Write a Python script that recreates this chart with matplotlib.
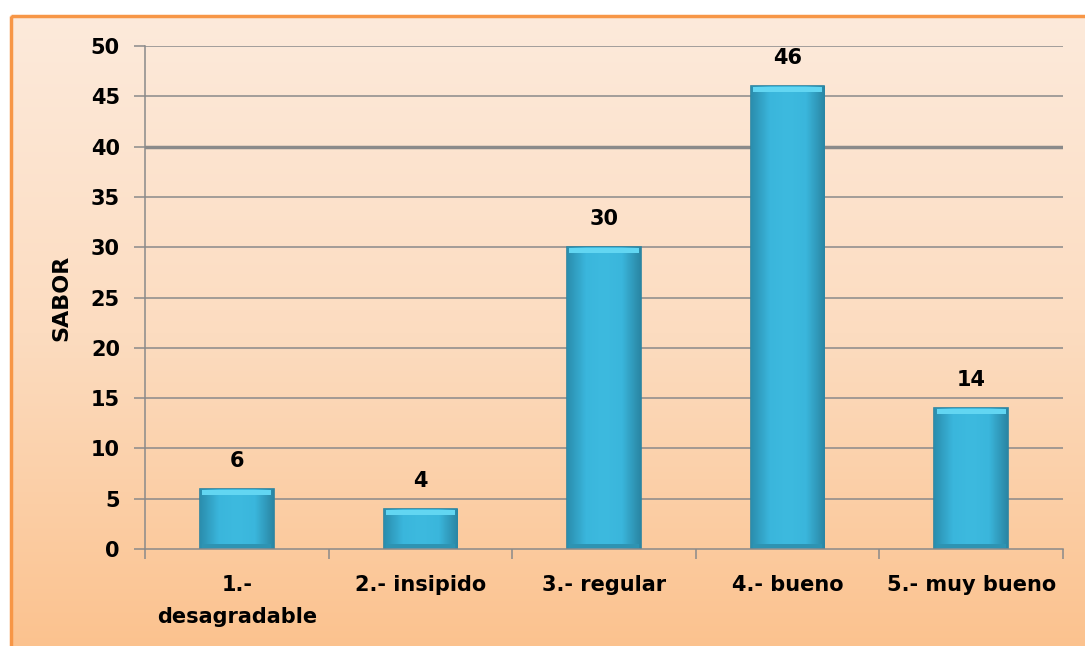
import numpy as np
import matplotlib
matplotlib.use("Agg")
import matplotlib.pyplot as plt
from matplotlib.patches import Rectangle
from matplotlib.colors import LinearSegmentedColormap

categories = ["1.-\ndesagradable", "2.- insipido", "3.- regular", "4.- bueno", "5.- muy bueno"]
values = [6, 4, 30, 46, 14]
y_ticks = [0, 5, 10, 15, 20, 25, 30, 35, 40, 45, 50]

plt.rcParams["font.family"] = ["DejaVu Sans"]
W, H = 1085, 646
fig = plt.figure(figsize=(W / 100, H / 100), dpi=100)
fig.patch.set_facecolor("white")

# peach gradient background inside the orange frame
bg = fig.add_axes([0, 0, 1, 1], zorder=0)
bg.set_xlim(0, W); bg.set_ylim(H, 0); bg.axis("off")
grad = np.linspace(0, 1, 256).reshape(-1, 1)
bg_cmap = LinearSegmentedColormap.from_list("peach", ["#FDEADB", "#FCDCC0", "#FBC28E"])
bg.imshow(grad, cmap=bg_cmap, extent=[10, W + 5, H + 5, 15], aspect="auto", zorder=0)
bg.add_patch(Rectangle((11, 16), W, H, fill=False, ec="#F79646", lw=2.5, zorder=1))

ax = fig.add_axes([145 / W, 1 - 549 / H, (1063 - 145) / W, (549 - 46) / H], zorder=1)
ax.patch.set_alpha(0)
x = np.arange(len(categories))
ax.set_xlim(-0.5, len(categories) - 0.5)
ax.set_ylim(0, 50)

for t in y_ticks[1:]:
    ax.axhline(t, color="#8A8A8A", lw=2.5 if t == 40 else 1.1, zorder=1)

bars = ax.bar(x, values, width=0.4, color="#38B4DA", edgecolor="#2C84A0", lw=1.2, zorder=3)

# horizontal shading: darker edges, brighter middle
bar_cmap = LinearSegmentedColormap.from_list("bar", ["#2B8EAE", "#3AB6DC", "#3DBADF", "#3AB6DC", "#2A86A4"])
hgrad = np.linspace(0, 1, 64).reshape(1, -1)
for b, v in zip(bars, values):
    x0, w = b.get_x(), b.get_width()
    im = ax.imshow(hgrad, cmap=bar_cmap, extent=[x0, x0 + w, 0, v], aspect="auto", zorder=3.5)
    im.set_clip_path(b)
    # light bevel at top, subtle darker one at the base
    ax.add_patch(Rectangle((x0 + 0.012, v - 0.6), w - 0.024, 0.5, fc="#62D6F2", ec="none", zorder=4))
    ax.add_patch(Rectangle((x0 + 0.012, 0.1), w - 0.024, 0.35, fc="#2E93B2", ec="none", zorder=4))
    ax.text(b.get_x() + w / 2, v + 1.8, str(v), ha="center", va="bottom",
            fontsize=15, fontweight="bold", color="black")

ax.set_xticks(np.arange(-0.5, len(categories)), minor=True)
ax.set_xticks(x)
ax.set_xticklabels(categories, fontsize=15, fontweight="bold", linespacing=1.7)
ax.tick_params(axis="x", which="major", length=0, pad=19)
ax.tick_params(axis="x", which="minor", length=7, color="#8A8A8A", width=1.1)
ax.set_yticks(y_ticks)
ax.set_yticklabels([str(t) for t in y_ticks], fontsize=15, fontweight="bold")
ax.tick_params(axis="y", length=8, color="#8A8A8A", width=1.1, pad=10)
ax.set_ylabel("SABOR", fontsize=16, fontweight="bold", labelpad=14)

for s in ["top", "right"]:
    ax.spines[s].set_visible(False)
for s in ["left", "bottom"]:
    ax.spines[s].set_color("#8A8A8A")
    ax.spines[s].set_linewidth(1.1)
ax.spines["bottom"].set_zorder(5)

fig.savefig("out.png", dpi=100, facecolor="white")
